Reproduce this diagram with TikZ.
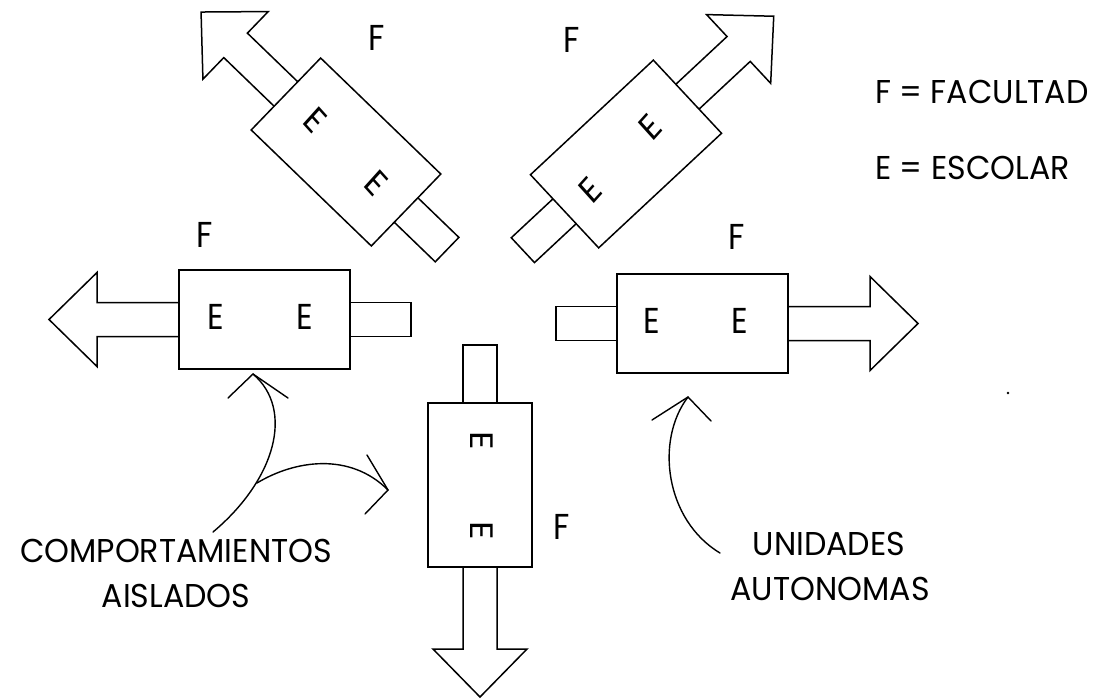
\documentclass[tikz,border=0pt]{standalone}
\usepackage{fontspec}
\setmainfont{Poppins}
\newcommand\unitshape[7]{% cx, cy, angle, length, width, shaft, stub
  \begin{scope}[shift={(#1,#2)}, rotate=#3]
    \draw[unitline] (-#4/2,-#5/2) rectangle (#4/2,#5/2);
    \draw[unitline] (-#4/2,-17) -- (-#4/2-#7,-17) -- (-#4/2-#7,17) -- (-#4/2,17);
    \draw[unitline] (#4/2,-17) -- (#4/2+#6,-17) -- (#4/2+#6,-47) -- (#4/2+#6+48,0)
       -- (#4/2+#6,47) -- (#4/2+#6,17) -- (#4/2,17);
  \end{scope}}
\begin{document}
\begin{tikzpicture}[x=1pt,y=-1pt,
  unitline/.style={line width=1.5pt, line join=miter},
  curveline/.style={line width=1.4pt, line cap=round, line join=miter},
  letter/.style={font=\fontsize{36}{40}\selectfont, inner sep=0pt, xscale=0.9},
  label/.style={font=\fontsize{33}{38}\selectfont, inner sep=0pt, xscale=0.96}]
\useasboundingbox (0,0) rectangle (1107,699);
\fill[white] (0,0) rectangle (1107,699);

% units
\unitshape{702.5}{323.5}{0}{171}{99}{82}{61}
\unitshape{264.5}{319.5}{180}{171}{99}{82}{61}
\unitshape{480}{485}{-90}{164}{104}{82}{58}
\unitshape{346}{152}{136}{167}{100}{70}{57}
\unitshape{626}{154}{43}{168}{100}{70}{57}

% E letters
\node[letter] (eR1) at (652,321) {E};
\node[letter] (eR2) at (740,321) {E};
\node[letter] (eL1) at (216,317) {E};
\node[letter] (eL2) at (305,317) {E};
\node[letter, rotate=-90] (eB1) at (482,441) {E};
\node[letter, rotate=-90] (eB2) at (482,531) {E};
\node[letter, rotate=-45] (eTL1) at (315,120) {E};
\node[letter, rotate=-45] (eTL2) at (376,183) {E};
\node[letter, rotate=45] (eTR1) at (650,127) {E};
\node[letter, rotate=45] (eTR2) at (590,190) {E};

% F letters
\node[letter] (fTL) at (377,38) {F};
\node[letter] (fTR) at (572,40) {F};
\node[letter] (fL) at (205,235) {F};
\node[letter] (fR) at (737,237) {F};
\node[letter] (fB) at (562,527) {F};

% legend
\node[label, anchor=west] (legF) at (875,92) {F = FACULTAD};
\node[label, anchor=west] (legE) at (875,168) {E = ESCOLAR};

% labels
\node[label] (comp) at (176,551) {COMPORTAMIENTOS};
\node[label] (aisl) at (176,596) {AISLADOS};
\node[label] (unid) at (829,544) {UNIDADES};
\node[label] (auto) at (830,589) {AUTONOMAS};

% curved arrows (left)
\coordinate (cs) at (213,532);
\coordinate (c1tip) at (253,374);
\coordinate (cb) at (257,483);
\coordinate (c2tip) at (388,490);
\draw[curveline] (cs) .. controls (275,480) and (295,410) .. (c1tip);
\draw[curveline] (228,398) -- (c1tip) -- (288,398);
\draw[curveline] (cb) .. controls (295,460) and (350,452) .. (c2tip);
\draw[curveline] (367,455) -- (c2tip) -- (365,514);

% curved arrow (right)
\coordinate (rs) at (720,553);
\coordinate (rtip) at (688,397);
\draw[curveline] (rs) .. controls (665,520) and (655,440) .. (rtip);
\draw[curveline] (652,420) -- (rtip) -- (711,421);

% speck
\fill (1008,393) circle (1.3);
\end{tikzpicture}
\end{document}
